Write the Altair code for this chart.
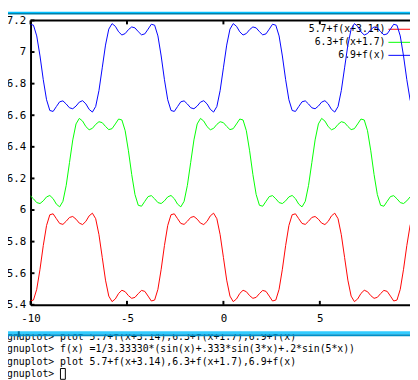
import altair as alt
import pandas as pd

# ---- data (100-ish samples per curve) ----
x_vals = [-10.019, -9.849, -9.680, -9.510, -9.340, -9.170, -9.000, -8.830, -8.661, -8.491,
          -8.321, -8.151, -7.981, -7.811, -7.642, -7.472, -7.302, -7.132, -6.962, -6.793,
          -6.623, -6.453, -6.283, -6.113, -5.944, -5.774, -5.604, -5.434, -5.264, -5.094,
          -4.925, -4.755, -4.585, -4.415, -4.245, -4.076, -3.906, -3.736, -3.566, -3.396,
          -3.227, -3.057, -2.887, -2.717, -2.547, -2.377, -2.208, -2.038, -1.868, -1.698,
          -1.528, -1.359, -1.189, -1.019, -0.849, -0.679, -0.509, -0.340, -0.170, 0.0,
          0.170, 0.340, 0.509, 0.679, 0.849, 1.019, 1.189, 1.359, 1.528, 1.698,
          1.868, 2.038, 2.208, 2.377, 2.547, 2.717, 2.887, 3.057, 3.227, 3.396,
          3.566, 3.736, 3.906, 4.076, 4.245, 4.415, 4.585, 4.755, 4.925, 5.094,
          5.264, 5.434, 5.604, 5.774, 5.944, 6.113, 6.283, 6.453, 6.623, 6.793,
          6.962, 7.132, 7.302, 7.472, 7.642, 7.811, 7.981, 8.151, 8.321, 8.491,
          8.661, 8.830, 9.000, 9.170, 9.340, 9.510, 9.680, 9.849, 10.019]

y_red = [5.424, 5.430, 5.498, 5.625, 5.775, 5.902, 5.970, 5.976, 5.945, 5.915, 5.909, 5.929, 5.953,
         5.959, 5.942, 5.917, 5.908, 5.928, 5.963, 5.980, 5.945, 5.844,
         5.700, 5.556, 5.455, 5.420, 5.437, 5.472, 5.492, 5.483, 5.458, 5.441, 5.447, 5.471, 5.491,
         5.485, 5.455, 5.424, 5.430, 5.498, 5.625, 5.775, 5.902, 5.970, 5.976, 5.945, 5.915, 5.909,
         5.929, 5.953, 5.959, 5.942, 5.917, 5.908, 5.928, 5.963, 5.980, 5.945, 5.844,
         5.700, 5.556, 5.455, 5.420, 5.437, 5.472, 5.492, 5.483, 5.458, 5.441, 5.447, 5.471, 5.491,
         5.485, 5.455, 5.424, 5.430, 5.498, 5.625, 5.775, 5.902, 5.970, 5.976, 5.945, 5.915, 5.909,
         5.929, 5.953, 5.959, 5.942, 5.917, 5.908, 5.928, 5.963, 5.980, 5.945, 5.844,
         5.700, 5.556, 5.455, 5.420, 5.437, 5.472, 5.492, 5.483, 5.458, 5.441, 5.447, 5.471, 5.491,
         5.485, 5.455, 5.424, 5.430, 5.498, 5.625, 5.775, 5.902, 5.970, 5.976]

y_green = [6.091, 6.071, 6.047, 6.041, 6.058, 6.083, 6.092, 6.072, 6.037, 6.020, 6.055, 6.156,
           6.300, 6.444, 6.545, 6.580, 6.563, 6.528, 6.508, 6.517, 6.542, 6.559, 6.553, 6.529, 6.509,
           6.515, 6.545, 6.576, 6.570, 6.502, 6.375, 6.225, 6.098, 6.030, 6.024, 6.055, 6.085, 6.091,
           6.071, 6.047, 6.041, 6.058, 6.083, 6.092, 6.072, 6.037, 6.020, 6.055, 6.156,
           6.300, 6.444, 6.545, 6.580, 6.563, 6.528, 6.508, 6.517, 6.542, 6.559, 6.553, 6.529, 6.509,
           6.515, 6.545, 6.576, 6.570, 6.502, 6.375, 6.225, 6.098, 6.030, 6.024, 6.055, 6.085, 6.091,
           6.071, 6.047, 6.041, 6.058, 6.083, 6.092, 6.072, 6.037, 6.020, 6.055, 6.156,
           6.300, 6.444, 6.545, 6.580, 6.563, 6.528, 6.508, 6.517, 6.542, 6.559, 6.553, 6.529, 6.509,
           6.515, 6.545, 6.576, 6.570, 6.502, 6.375, 6.225, 6.098, 6.030, 6.024, 6.055, 6.085, 6.091,
           6.071, 6.047, 6.041, 6.058, 6.083, 6.092, 6.072]

y_blue = [7.176, 7.170, 7.102, 6.975, 6.825, 6.698, 6.630, 6.624, 6.655, 6.685, 6.691, 6.671, 6.647,
          6.641, 6.658, 6.683, 6.692, 6.672, 6.637, 6.620, 6.655, 6.756,
          6.900, 7.044, 7.145, 7.180, 7.163, 7.128, 7.108, 7.117, 7.142, 7.159, 7.153, 7.129, 7.109,
          7.115, 7.145, 7.176, 7.170, 7.102, 6.975, 6.825, 6.698, 6.630, 6.624, 6.655, 6.685, 6.691,
          6.671, 6.647, 6.641, 6.658, 6.683, 6.692, 6.672, 6.637, 6.620, 6.655, 6.756,
          6.900, 7.044, 7.145, 7.180, 7.163, 7.128, 7.108, 7.117, 7.142, 7.159, 7.153, 7.129, 7.109,
          7.115, 7.145, 7.176, 7.170, 7.102, 6.975, 6.825, 6.698, 6.630, 6.624, 6.655, 6.685, 6.691,
          6.671, 6.647, 6.641, 6.658, 6.683, 6.692, 6.672, 6.637, 6.620, 6.655, 6.756,
          6.900, 7.044, 7.145, 7.180, 7.163, 7.128, 7.108, 7.117, 7.142, 7.159, 7.153, 7.129, 7.109,
          7.115, 7.145, 7.176, 7.170, 7.102, 6.975, 6.825, 6.698, 6.630, 6.624]

series_names = ["5.7+f(x+3.14)", "6.3+f(x+1.7)", "6.9+f(x)"]
series_colors = ["#ff0000", "#00ff00", "#0000ff"]
x_ticks = [-10, -5, 0, 5]
y_ticks = [5.4, 5.6, 5.8, 6, 6.2, 6.4, 6.6, 6.8, 7, 7.2]
terminal_lines = [
    "gnuplot> plot 5.7+f(x+3.14),6.3+f(x+1.7),6.9+f(x)",
    "gnuplot> f(x) =1/3.33330*(sin(x)+.333*sin(3*x)+.2*sin(5*x))",
    "gnuplot> plot 5.7+f(x+3.14),6.3+f(x+1.7),6.9+f(x)",
    "gnuplot> ",
]

rows = []
for name, ys in zip(series_names, [y_red, y_green, y_blue]):
    for xv, yv in zip(x_vals, ys):
        rows.append({"x": xv, "y": yv, "series": name})
df = pd.DataFrame(rows)

W, H = 387, 290
FONT = "DejaVu Sans Mono"
xscale = alt.Scale(domain=[-10, 9.675], nice=False, zero=False)
yscale = alt.Scale(domain=[5.4, 7.2], nice=False, zero=False)

x_axis = alt.Axis(values=x_ticks, grid=False, ticks=False, tickSize=0,
                  domainColor="black", domainWidth=2, labelFont=FONT,
                  labelFontSize=11, labelColor="black", labelPadding=14,
                  labelBaseline="middle", labelFlush=False,
                  labelExpr="datum.value + ''")
y_axis = alt.Axis(values=y_ticks, grid=False, ticks=False, tickSize=0,
                  domainColor="black", domainWidth=2, labelFont=FONT,
                  labelFontSize=11, labelColor="black", labelPadding=5,
                  labelAlign="right", labelBaseline="middle", labelFlush=False,
                  labelExpr="datum.value + ''")

one = pd.DataFrame({"a": [0]})

lines = alt.Chart(df).mark_line(strokeWidth=1, clip=True).encode(
    x=alt.X("x:Q", scale=xscale, title=None, axis=x_axis),
    y=alt.Y("y:Q", scale=yscale, title=None, axis=y_axis),
    color=alt.Color("series:N", scale=alt.Scale(domain=series_names, range=series_colors),
                    legend=None),
)

xt = pd.DataFrame({"x": x_ticks})
yt = pd.DataFrame({"y": y_ticks})
bottom_ticks = alt.Chart(xt).mark_rule(color="black", strokeWidth=2).encode(
    x=alt.X("x:Q", scale=xscale, title=None, axis=x_axis), y=alt.value(H), y2=alt.value(H - 4))
top_ticks = alt.Chart(xt).mark_rule(color="black", strokeWidth=2).encode(
    x=alt.X("x:Q", scale=xscale, title=None, axis=x_axis), y=alt.value(0), y2=alt.value(4))
left_ticks = alt.Chart(yt).mark_rule(color="black", strokeWidth=2).encode(
    y=alt.Y("y:Q", scale=yscale, title=None, axis=y_axis), x=alt.value(0), x2=alt.value(4))
top_border = alt.Chart(one).mark_rule(color="black", strokeWidth=2).encode(
    x=alt.value(0), x2=alt.value(W), y=alt.value(0))

layers = []
# terminal text (drawn first so the window bar covers the first line)
for i, line in enumerate(terminal_lines):
    layers.append(alt.Chart(pd.DataFrame({"label": [line]})).mark_text(
        font=FONT, fontSize=10, align="left", baseline="alphabetic", color="black"
    ).encode(text="label:N", x=alt.value(-24), y=alt.value(326 + 12.5 * i)))

cursor = alt.Chart(one).mark_rect(fill="white", stroke="black", strokeWidth=1).encode(
    x=alt.value(30.5), x2=alt.value(35.5), y=alt.value(355), y2=alt.value(366))

bars = [
    (317, 320, "#33ccff"),
    (320, 322, "#0090c8"),
]
bar_layers = [alt.Chart(one).mark_rect(fill=c).encode(
    x=alt.value(-23), x2=alt.value(W), y=alt.value(a), y2=alt.value(b)) for a, b, c in bars]
grip = alt.Chart(one).mark_rect(fill="#00709a").encode(
    x=alt.value(-13), x2=alt.value(-11), y=alt.value(317), y2=alt.value(323))
top_bar = [alt.Chart(one).mark_rect(fill=c).encode(
    x=alt.value(-23), x2=alt.value(W), y=alt.value(a), y2=alt.value(b))
    for a, b, c in [(-9, -7.5, "#00bfff"), (-7.5, -6, "#0080a8")]]

legend_layers = []
for i, (name, color) in enumerate(zip(series_names, series_colors)):
    yy = 9 + 13.3 * i
    legend_layers.append(alt.Chart(pd.DataFrame({"label": [name]})).mark_text(
        font=FONT, fontSize=10, align="right", baseline="middle", color="black"
    ).encode(text="label:N", x=alt.value(362), y=alt.value(yy)))
    legend_layers.append(alt.Chart(one).mark_rule(color=color, strokeWidth=1).encode(
        x=alt.value(365), x2=alt.value(W), y=alt.value(yy)))

chart = alt.layer(
    *layers, cursor, *bar_layers, grip, *top_bar, *legend_layers,
    lines, bottom_ticks, top_ticks, left_ticks, top_border,
).properties(
    width=W, height=H,
    padding={"left": 23, "top": 9, "right": 0, "bottom": 73},
    autosize=alt.AutoSizeParams(type="none"),
    background="white",
).configure_view(stroke=None)

chart.save("out.html", embed_options={"renderer": "svg", "actions": False})
